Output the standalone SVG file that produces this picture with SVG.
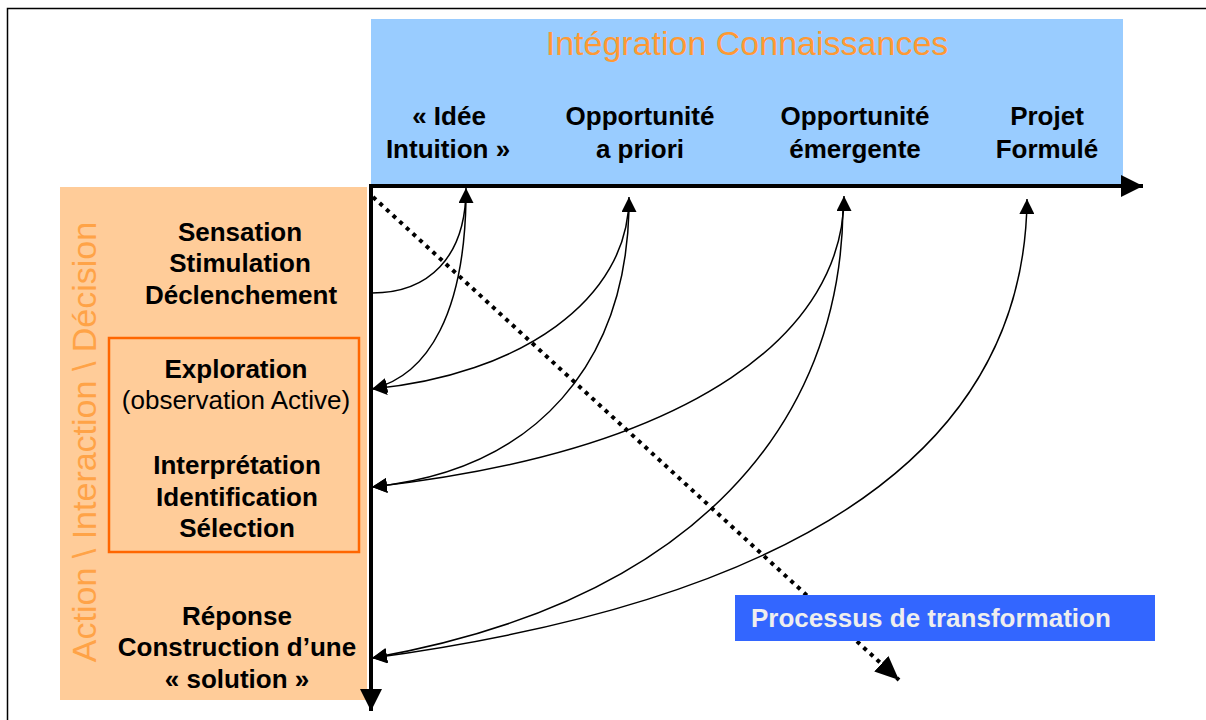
<svg xmlns="http://www.w3.org/2000/svg" width="1206" height="720" viewBox="0 0 1206 720">
<style>
.b{font-family:"Liberation Sans",Arial,sans-serif;font-weight:bold;font-size:26px;fill:#000;text-anchor:middle}
.r{font-family:"Liberation Sans",Arial,sans-serif;font-size:26px;fill:#000;text-anchor:middle}
.o{font-family:"Liberation Sans",Arial,sans-serif;font-size:34px;text-anchor:middle}
.c{fill:none;stroke:#000;stroke-width:1.5}
</style>
<defs>
<marker id="ah" markerUnits="userSpaceOnUse" markerWidth="15" markerHeight="15" viewBox="0 0 15 15" refX="15" refY="7.5" orient="auto-start-reverse"><path d="M0,0L15,7.5L0,15z" fill="#000"/></marker>
<marker id="axis" markerUnits="userSpaceOnUse" markerWidth="22" markerHeight="22" viewBox="0 0 22 22" refX="22" refY="11" orient="auto"><path d="M0,0L22,11L0,22z" fill="#000"/></marker>
<marker id="dot" markerUnits="userSpaceOnUse" markerWidth="24" markerHeight="21" viewBox="0 0 24 21" refX="24" refY="10.5" orient="auto"><path d="M0,0L24,10.5L0,21z" fill="#000"/></marker>
</defs>
<rect x="0" y="0" width="1206" height="720" fill="#fff"/>
<rect x="7.5" y="8.5" width="1230" height="740" fill="none" stroke="#000" stroke-width="1.5"/>

<g id="header">
<rect x="371" y="19" width="752" height="167" fill="#99CCFF"/>
<text class="o" x="747" y="55" fill="#FF9933">Intégration Connaissances</text>
</g>
<g id="idee"><text class="b" x="449" y="125">« Idée</text><text class="b" x="448" y="158">Intuition »</text></g>
<g id="opp-priori"><text class="b" x="640" y="125">Opportunité</text><text class="b" x="640" y="158">a priori</text></g>
<g id="opp-emergente"><text class="b" x="855" y="125">Opportunité</text><text class="b" x="855" y="158">émergente</text></g>
<g id="projet"><text class="b" x="1047" y="125">Projet</text><text class="b" x="1047" y="158">Formulé</text></g>

<g id="side">
<rect x="60" y="187" width="307" height="513" fill="#FFCC99"/>
<text class="o" transform="translate(96,442) rotate(-90)" fill="#FFA347">Action \ Interaction \ Décision</text>
</g>
<g id="sensation"><text class="b" x="240" y="241">Sensation</text><text class="b" x="240" y="272">Stimulation</text><text class="b" x="241" y="304">Déclenchement</text></g>
<g id="box"><rect x="109" y="338" width="250" height="214" fill="none" stroke="#FF6600" stroke-width="2.5"/></g>
<g id="exploration"><text class="b" x="236" y="378">Exploration</text><text class="r" x="236" y="409">(observation Active)</text></g>
<g id="interpretation"><text class="b" x="237" y="474">Interprétation</text><text class="b" x="237" y="506">Identification</text><text class="b" x="237" y="537">Sélection</text></g>
<g id="reponse"><text class="b" x="237" y="625">Réponse</text><text class="b" x="237" y="656">Construction d’une</text><text class="b" x="237" y="688">« solution »</text></g>

<g id="connectors">
<path d="M369,186 L1143,186" stroke="#000" stroke-width="4" marker-end="url(#axis)"/>
<path d="M371,184 L371,711" stroke="#000" stroke-width="4" marker-end="url(#axis)"/>
<path d="M373,197 L899,680" stroke="#000" stroke-width="4" stroke-dasharray="4 5" fill="none" marker-end="url(#dot)"/>
<path class="c" d="M372,293 C428,293 466,258 466,188" marker-end="url(#ah)"/>
<path class="c" d="M466,200 C464,310 430,375 372,389" marker-end="url(#ah)"/>
<path class="c" d="M629,197 C629,300 520,375 372,389" marker-start="url(#ah)" marker-end="url(#ah)"/>
<path class="c" d="M629,210 C625,360 540,470 372,487" marker-end="url(#ah)"/>
<path class="c" d="M844,196 C844,330 700,450 372,487" marker-start="url(#ah)" marker-end="url(#ah)"/>
<path class="c" d="M843,210 C840,420 700,600 372,658" marker-end="url(#ah)"/>
<path class="c" d="M1027,199 C1025,450 800,600 372,658" marker-start="url(#ah)" marker-end="url(#ah)"/>
</g>

<g id="processus">
<rect x="735" y="595" width="420" height="46" fill="#3366FF"/>
<text x="751" y="627" font-family="Liberation Sans, Arial, sans-serif" font-weight="bold" font-size="26" fill="#EEEEEE">Processus de transformation</text>
</g>
</svg>
